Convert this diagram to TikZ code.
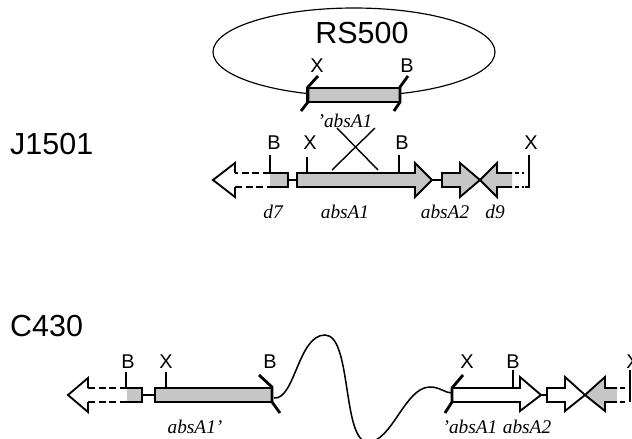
\documentclass[tikz,border=0pt]{standalone}
\usepackage{fontspec}
\setmainfont{Liberation Serif}
\newfontfamily\helv{Liberation Sans}
\usetikzlibrary{positioning}

\begin{document}
\begin{tikzpicture}[x=0.03cm, y=-0.03cm,
      strain/.style={font=\helv\fontsize{26}{26}\selectfont, inner sep=0pt},
      site/.style={font=\helv\fontsize{17}{17}\selectfont, inner sep=0pt},
      gname/.style={font=\itshape\fontsize{16.5}{16.5}\selectfont, inner sep=0pt},
      gene/.style={draw, line width=1.6pt, fill=gray!45},
      open/.style={draw, line width=1.6pt, fill=white},
      shade/.style={fill=gray!45},
      cut/.style={line width=1.4pt, dash pattern=on 6pt off 3pt},
      tick/.style={line width=1.2pt},
      brk/.style={line width=2.4pt},
      link/.style={line width=1.3pt}]
    \clip (0,0) rectangle (632,438);

    % plasmid RS500
    \draw[line width=1pt] (354,52) ellipse [x radius=141, y radius=44];
    \node[strain] (rs) at (362,33) {RS500};
    \draw[gene] (307,88) rectangle (400,102);
    \draw[brk] (318,76) -- (308,87) -- (308,102) -- (301,111);
    \draw[brk] (408,76) -- (400,87) -- (400,102) -- (394,111);
    \node[site] (px) at (317,66) {X};
    \node[site] (pb) at (407,66) {B};
    \node[gname] (pabs) at (345,121) {'absA1};

    % J1501
    \node[strain, anchor=west] (j) at (10,144) {J1501};
    \coordinate (jd7) at (288,180);
    \coordinate (ja1l) at (297,180);
    \coordinate (ja1r) at (432,180);
    \coordinate (ja2l) at (442,180);
    \fill[shade] (270,173) rectangle (288,187);
    \draw[cut] (270,173) -- (235,173) (235,187) -- (270,187);
    \draw[open] (235,173) -- (235,163) -- (213,180) -- (235,197) -- (235,187);
    \draw[link, line width=1.6pt] (270,173) -- (288,173) -- (288,187) -- (270,187);
    \draw[link] (jd7) -- (ja1l);
    \draw[gene] (297,173) -- (415,173) -- (415,163) -- (432,180) -- (415,197)
                -- (415,187) -- (297,187) -- cycle;
    \draw[link] (ja1r) -- (ja2l);
    \draw[gene] (442,173) -- (460,173) -- (460,163) -- (480,180) -- (460,197)
                -- (460,187) -- (442,187) -- cycle;
    \draw[gene] (512,173) -- (497,173) -- (497,163) -- (480,180) -- (497,197)
                -- (497,187) -- (512,187);
    \draw[link] (515,173) -- (519,173) (522,173) -- (524,173)
                (515,187) -- (519,187) (522,187) -- (524,187);
    \draw[tick] (270,155) -- (270,173);
    \draw[tick] (307,157) -- (307,173);
    \draw[tick] (399,155) -- (399,173);
    \draw[tick] (529,155) -- (529,187) -- (525,187);
    \node[site] (jb1) at (274,143) {B};
    \node[site] (jx1) at (310,143) {X};
    \node[site] (jb2) at (402,143) {B};
    \node[site] (jx2) at (531,143) {X};
    \draw[tick] (332,170) -- (375,128);
    \draw[tick] (378,170) -- (337,128);
    \node[gname] (jn1) at (273,212) {d7};
    \node[gname] (jn2) at (345,212) {absA1};
    \node[gname] (jn3) at (445,212) {absA2};
    \node[gname] (jn4) at (495,212) {d9};

    % C430
    \node[strain, anchor=west] (c) at (10,326) {C430};
    \coordinate (cd7) at (142,395);
    \coordinate (ca1l) at (155,395);
    \coordinate (cwl) at (274,398);
    \coordinate (cwr) at (452,393);
    \coordinate (ca1r) at (541,395);
    \coordinate (ca2l) at (547,395);
    \fill[shade] (127,388) rectangle (142,402);
    \draw[cut] (127,388) -- (88,388) (88,402) -- (127,402);
    \draw[open] (88,388) -- (88,378) -- (68,395) -- (88,412) -- (88,402);
    \draw[link, line width=1.6pt] (127,388) -- (142,388) -- (142,402) -- (127,402);
    \draw[link] (cd7) -- (ca1l);
    \draw[gene] (155,388) rectangle (272,402);
    \draw[brk] (259,375) -- (272,387) -- (272,402) -- (280,413);
    \draw[link] (cwl) .. controls (295,400) and (298,335) .. (325,335)
                .. controls (352,335) and (342,442) .. (368,442)
                .. controls (392,442) and (405,387) .. (430,387)
                .. controls (440,387) and (445,393) .. (cwr);
    \draw[open] (452,388) -- (520,388) -- (520,377) -- (541,395) -- (520,411)
                -- (520,402) -- (452,402);
    \draw[brk] (463,375) -- (452,388) -- (452,402) -- (445,413);
    \draw[link] (ca1r) -- (ca2l);
    \draw[open] (547,388) -- (565,388) -- (565,377) -- (585,395) -- (565,411)
                -- (565,402) -- (547,402) -- cycle;
    \draw[gene] (617,388) -- (605,388) -- (605,377) -- (585,395) -- (605,411)
                -- (605,402) -- (617,402);
    \draw[link] (620,388) -- (625,388) (620,402) -- (625,402);
    \draw[tick] (630,370) -- (630,402);
    \draw[tick] (126,372) -- (126,388);
    \draw[tick] (166,372) -- (166,388);
    \draw[tick] (513,370) -- (513,388);
    \node[site] (cb1) at (128,362) {B};
    \node[site] (cx1) at (166,362) {X};
    \node[site] (cb2) at (270,362) {B};
    \node[site] (cx2) at (467,362) {X};
    \node[site] (cb3) at (513,362) {B};
    \node[site] (cx3) at (633,362) {X};
    \node[gname] (cn1) at (195,427) {absA1'};
    \node[gname] (cn2) at (470,427) {'absA1};
    \node[gname] (cn3) at (527,427) {absA2};
  \end{tikzpicture}
\end{document}
